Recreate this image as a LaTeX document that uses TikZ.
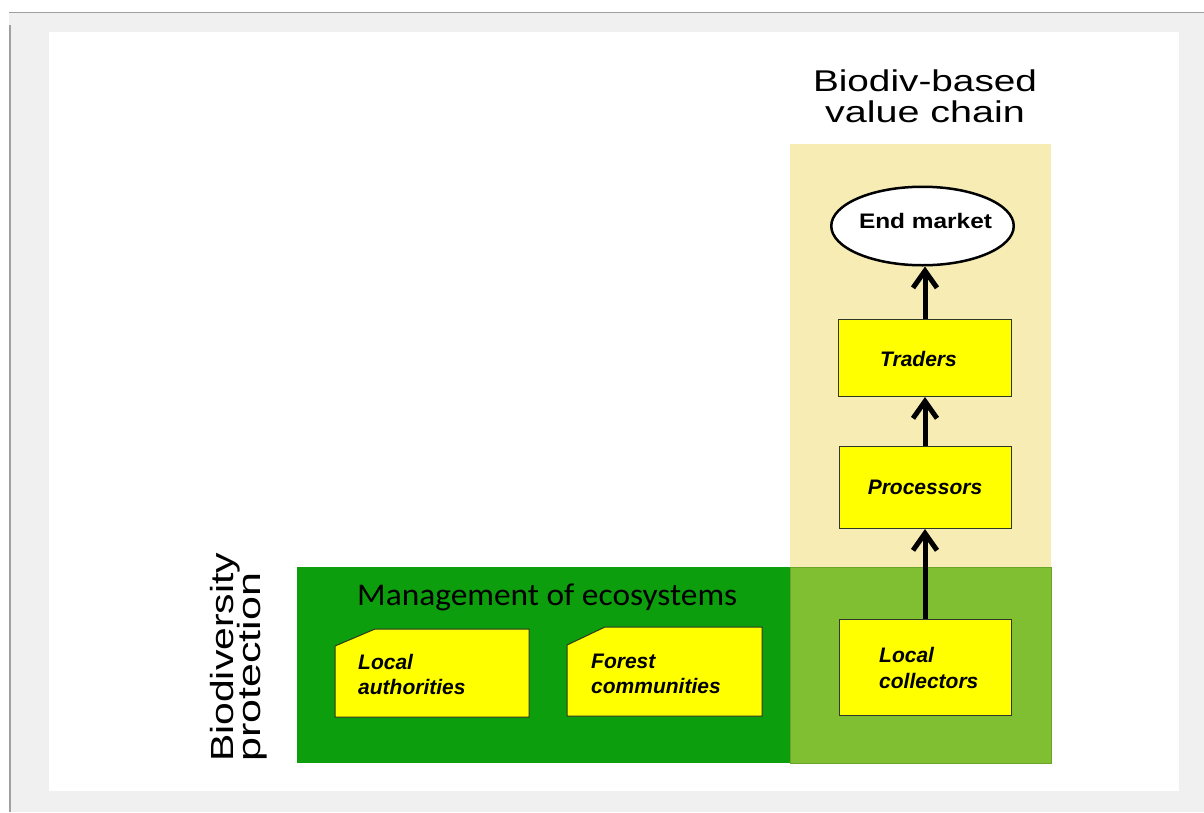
\documentclass[tikz,border=0pt]{standalone}
\usepackage{fontspec}
\setmainfont{Liberation Sans}
\newfontfamily\calib{Carlito}
\usetikzlibrary{arrows.meta,shapes.geometric}
\definecolor{bgray}{HTML}{F0F0F0}
\definecolor{lgray}{HTML}{A0A0A0}
\definecolor{beige}{RGB}{246,236,180}
\definecolor{lgreen}{RGB}{128,190,50}
\definecolor{lgreenedge}{RGB}{105,165,40}
\definecolor{dgreen}{RGB}{12,158,12}
\definecolor{boxyel}{RGB}{255,255,0}
\definecolor{edge}{RGB}{45,55,35}
\begin{document}
\begin{tikzpicture}[x=1pt,y=-1pt,
  box/.style={draw=edge,line width=1pt,fill=boxyel,inner sep=0pt},
  boxfont/.style={font=\fontsize{21}{25}\selectfont\bfseries\itshape},
  boxtxt/.style={boxfont,inner sep=0pt,anchor=base west},
  flow/.style={line width=5pt,-{Straight Barb[length=17pt,width=24pt]}},
  bigtxt/.style={font=\fontsize{30}{31}\selectfont,inner sep=0pt,anchor=base},
  sidetxt/.style={font=\fontsize{32}{34}\selectfont,inner sep=0pt,anchor=base west,rotate=90},
]
\useasboundingbox (0,0) rectangle (1204,812);
\fill[white] (0,0) rectangle (1204,812);
\fill[bgray] (9,12) rectangle (1204,812);
\draw[lgray,line width=1.5pt] (9,12.5) -- (1204,12.5);
\draw[lgray,line width=2pt] (10,25) -- (10,812);
\fill[white] (49,32) rectangle (1179,791);

% regions
\fill[beige] (790,144) rectangle (1051,567);
\fill[dgreen] (297,567) rectangle (790,763);
\fill[lgreen,draw=lgreenedge,line width=0.8pt] (790,567) rectangle (1051,763);

% titles
\node[bigtxt] (t1) at (925,91) {\resizebox{224pt}{\height}{Biodiv-based}};
\node[bigtxt] (t2) at (925,122) {\resizebox{200pt}{\height}{value chain}};
\node[sidetxt] (bp1) at (233,762) {\resizebox{209pt}{\height}{Biodiversity}};
\node[sidetxt] (bp2) at (260,762) {\resizebox{189pt}{\height}{protection}};
\node[inner sep=0pt,anchor=base west] (mg) at (357,605)
  {\resizebox{380pt}{\height}{\calib\fontsize{31.6}{33}\selectfont Management of ecosystems}};

% chamfered boxes
\draw[box] (335,646) -- (375,629) -- (529,629) -- (529,717) -- (335,717) -- cycle;
\node[boxtxt] (la1) at (358,669) {Local};
\node[boxtxt] (la2) at (358,694) {authorities};
\draw[box] (567,645) -- (605,627) -- (762,627) -- (762,716) -- (567,716) -- cycle;
\node[boxtxt] (fc1) at (591,668) {Forest};
\node[boxtxt] (fc2) at (591,693) {communities};

% value chain
\node[box,minimum width=172pt,minimum height=96pt] (lc) at (925,667.5) {};
\node[boxtxt] (lc1) at (879,662) {Local};
\node[boxtxt] (lc2) at (879,688) {collectors};
\node[box,boxfont,minimum width=172pt,minimum height=82pt] (pr) at (925,487.5) {Processors};
\node[box,minimum width=173pt,minimum height=77pt] (tr) at (925,358) {};
\node[boxfont,inner sep=0pt,anchor=base] (trt) at (918.5,366) {Traders};
\node[ellipse,draw=black,line width=2.5pt,fill=white,minimum width=182.5pt,minimum height=78.5pt,inner sep=0pt] (em) at (922.5,226) {};
\node[font=\fontsize{21}{25}\selectfont\bfseries,inner sep=0pt,anchor=base] (emt) at (925.5,228)
  {\resizebox{133pt}{\height}{End market}};

\draw[flow] (lc.north) -- (pr.south);
\draw[flow] (pr.north) -- (tr.south);
\draw[flow] (tr.north) -- (tr.north |- em.south);
\end{tikzpicture}
\end{document}
